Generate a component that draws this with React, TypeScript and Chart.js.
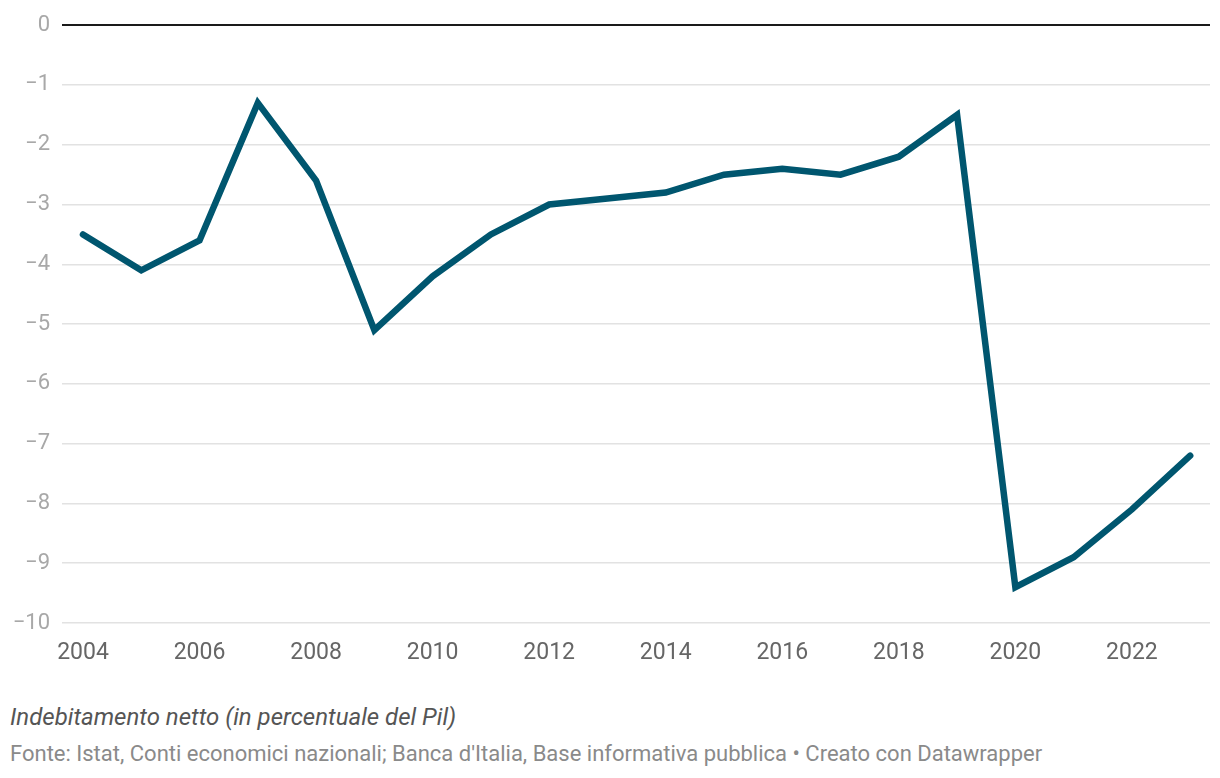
import React, { useEffect, useRef } from "react";
import { Chart, registerables } from "chart.js";

Chart.register(...registerables);

const years = [2004, 2005, 2006, 2007, 2008, 2009, 2010, 2011, 2012, 2013, 2014, 2015, 2016, 2017, 2018, 2019, 2020, 2021, 2022, 2023];
const netBorrowing = [-3.5, -4.1, -3.6, -1.3, -2.6, -5.1, -4.2, -3.5, -3.0, -2.9, -2.8, -2.5, -2.4, -2.5, -2.2, -1.5, -9.4, -8.9, -8.1, -7.2];
const xTickYears = [2004, 2006, 2008, 2010, 2012, 2014, 2016, 2018, 2020, 2022];
const yTicks = [0, -1, -2, -3, -4, -5, -6, -7, -8, -9, -10];
const caption = "Indebitamento netto (in percentuale del Pil)";
const source = "Fonte: Istat, Conti economici nazionali; Banca d'Italia, Base informativa pubblica • Creato con Datawrapper";

export default function App() {
  const ref = useRef<HTMLCanvasElement | null>(null);

  useEffect(() => {
    document.body.style.margin = "0";
    const ctx = ref.current!;
    const chart = new Chart(ctx, {
      type: "line",
      data: {
        datasets: [
          {
            data: years.map((y, i) => ({ x: y, y: netBorrowing[i] })),
            borderColor: "#00566f",
            borderWidth: 6.5,
            pointRadius: 0,
            borderJoinStyle: "miter",
            borderCapStyle: "round",
            tension: 0,
            fill: false,
          },
        ],
      },
      options: {
        animation: false,
        responsive: false,
        devicePixelRatio: 1,
        layout: { padding: { top: 23, right: 10, left: 0, bottom: 0 } },
        plugins: { legend: { display: false }, tooltip: { enabled: false } },
        scales: {
          x: {
            type: "linear",
            min: 2003.64,
            max: 2023.34,
            afterBuildTicks: (axis: any) => {
              axis.ticks = xTickYears.map((v) => ({ value: v }));
            },
            afterFit: (axis: any) => {
              axis.height = 50;
            },
            grid: { display: false, drawTicks: false },
            border: { display: false },
            ticks: {
              padding: 16,
              autoSkip: false,
              maxRotation: 0,
              color: "#666666",
              font: { family: "Roboto", size: 23 },
              callback: (v: any) => String(v),
            },
          },
          y: {
            min: -10,
            max: 0,
            afterBuildTicks: (axis: any) => {
              axis.ticks = yTicks.map((v) => ({ value: v }));
            },
            afterFit: (axis: any) => {
              axis.width = 62;
            },
            grid: {
              drawTicks: false,
              color: (c: any) => (c.tick && c.tick.value === 0 ? "#1a1a1a" : "#e2e2e2"),
              lineWidth: (c: any) => (c.tick && c.tick.value === 0 ? 2 : 1.5),
            },
            border: { display: false },
            ticks: {
              padding: 12,
              color: "#a8a8a8",
              font: { family: "Roboto", size: 22 },
              callback: (v: any) => (Number(v) < 0 ? "\u2212" + Math.abs(Number(v)) : String(v)),
            },
          },
        },
      },
    });
    return () => chart.destroy();
  }, []);

  return (
    <div style={{ position: "relative", width: 1220, height: 778, background: "#ffffff", fontFamily: "Roboto" }}>
      <canvas ref={ref} width={1220} height={673} style={{ position: "absolute", left: 0, top: 0 }} />
      <div style={{ position: "absolute", left: 10, top: 703, fontSize: 24, fontStyle: "italic", color: "#555555", whiteSpace: "nowrap" }}>
        {caption}
      </div>
      <div style={{ position: "absolute", left: 10, top: 741, fontSize: 22, color: "#8a8a8a", whiteSpace: "nowrap" }}>
        {source}
      </div>
    </div>
  );
}
